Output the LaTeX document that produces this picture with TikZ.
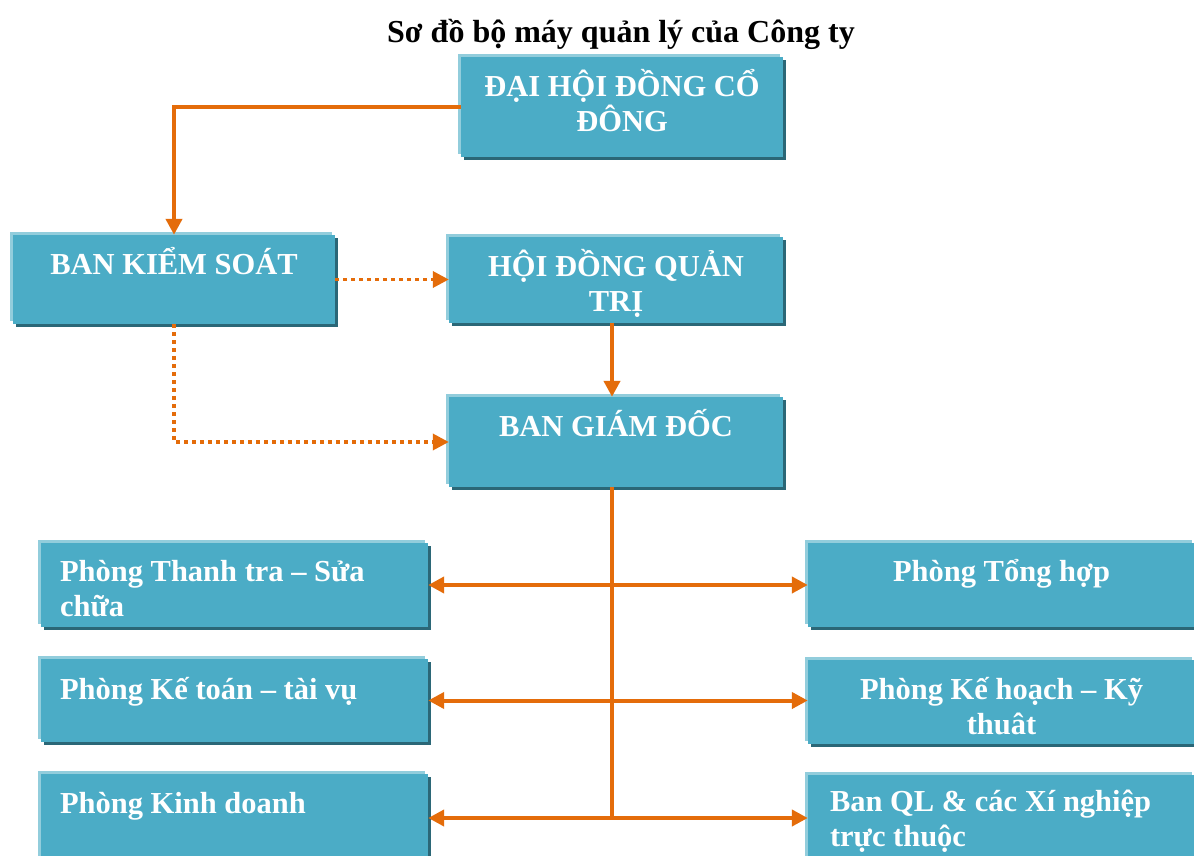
\documentclass[tikz,border=0pt]{standalone}
\usepackage{fontspec}
\setmainfont{Liberation Serif}
\usetikzlibrary{arrows.meta,shadows}
\definecolor{boxfill}{HTML}{4BACC6}
\definecolor{boxlight}{HTML}{92CDDC}
\definecolor{boxdark}{HTML}{2B6777}
\definecolor{lineor}{HTML}{E46C0A}
\tikzset{
  box/.style={rectangle, fill=boxfill, draw=none, inner sep=0pt,
    general shadow={fill=boxdark, shadow xshift=3pt, shadow yshift=-3pt},
    general shadow={fill=boxlight, shadow xshift=-3pt, shadow yshift=3pt}},
  txt/.style={text=white, font=\bfseries\fontsize{30.5}{35}\selectfont, inner sep=0pt},
  conn/.style={draw=lineor, line width=4pt},
  arr/.style={-{Triangle[length=16pt,width=16pt]}},
  darr/.style={{Triangle[length=16pt,width=16pt]}-{Triangle[length=16pt,width=16pt]}},
  dots/.style={dash pattern=on 3.5pt off 4.5pt, line width=3.5pt}
}
\begin{document}
\begin{tikzpicture}[x=1pt,y=-1pt]
\useasboundingbox[fill=white] (0,0) rectangle (1194,856);
% title
\node[font=\bfseries\fontsize{32}{38}\selectfont, inner sep=0pt, anchor=base] (title) at (621,43) {Sơ đồ bộ máy quản lý của Công ty};
% boxes
\node[box, minimum width=322pt, minimum height=100pt] (dh) at (622,107) {};
\node[box, minimum width=322pt, minimum height=89pt] (bks) at (174,279.5) {};
\node[box, minimum width=334pt, minimum height=86pt] (hd) at (616,280) {};
\node[box, minimum width=334pt, minimum height=90pt] (bgd) at (616,442) {};
\node[box, minimum width=387pt, minimum height=84pt] (tt) at (234.5,585) {};
\node[box, minimum width=387pt, minimum height=84pt] (th) at (1001.5,585) {};
\node[box, minimum width=387pt, minimum height=83pt] (kt) at (234.5,700.5) {};
\node[box, minimum width=387pt, minimum height=84pt] (kh) at (1001.5,702) {};
\node[box, minimum width=387pt, minimum height=88pt] (kd) at (234.5,818) {};
\node[box, minimum width=387pt, minimum height=88pt] (ql) at (1001.5,819) {};
% texts (anchor base = last line's baseline)
\node[txt, anchor=base, align=center] (dht) at ([yshift=-75pt]dh.north) {ĐẠI HỘI ĐỒNG CỔ\\ĐÔNG};
\node[txt, anchor=base] (bkst) at ([yshift=-39.5pt]bks.north) {BAN KIỂM SOÁT};
\node[txt, anchor=base, align=center] (hdt) at ([yshift=-75pt]hd.north) {HỘI ĐỒNG QUẢN\\TRỊ};
\node[txt, anchor=base] (bgdt) at ([yshift=-40pt]bgd.north) {BAN GIÁM ĐỐC};
\node[txt, anchor=base west, align=left] (ttt) at ([xshift=19pt,yshift=-74pt]tt.north west) {Phòng Thanh tra – Sửa\\chữa};
\node[txt, anchor=base] (tht) at ([yshift=-39pt]th.north) {Phòng Tổng hợp};
\node[txt, anchor=base west] (ktt) at ([xshift=19pt,yshift=-41pt]kt.north west) {Phòng Kế toán – tài vụ};
\node[txt, anchor=base, align=center] (kht) at ([yshift=-75pt]kh.north) {Phòng Kế hoạch – Kỹ\\thuât};
\node[txt, anchor=base west] (kdt) at ([xshift=19pt,yshift=-40pt]kd.north west) {Phòng Kinh doanh};
\node[txt, anchor=base west, align=left] (qlt) at ([xshift=22pt,yshift=-72pt]ql.north west) {Ban QL \& các Xí nghiệp\\trực thuộc};
% connectors
\draw[conn, arr] (dh.west) -| (bks.north);
\draw[conn, dots, arr] (bks.east) -- (bks.east -| hd.west);
\draw[conn, dots, arr] (bks.south) |- (bgd.west);
\draw[conn, arr] ([xshift=-4pt]hd.south) -- ([xshift=-4pt]bgd.north);
\coordinate (trunkend) at ([xshift=-4pt]bgd.south |- kd.east);
\draw[conn] ([xshift=-4pt]bgd.south) -- (trunkend);
\draw[conn, darr] (tt.east) -- (th.west);
\draw[conn, darr] (kt.east) -- (kt.east -| kh.west);
\draw[conn, darr] (kd.east) -- (kd.east -| ql.west);
\end{tikzpicture}
\end{document}
